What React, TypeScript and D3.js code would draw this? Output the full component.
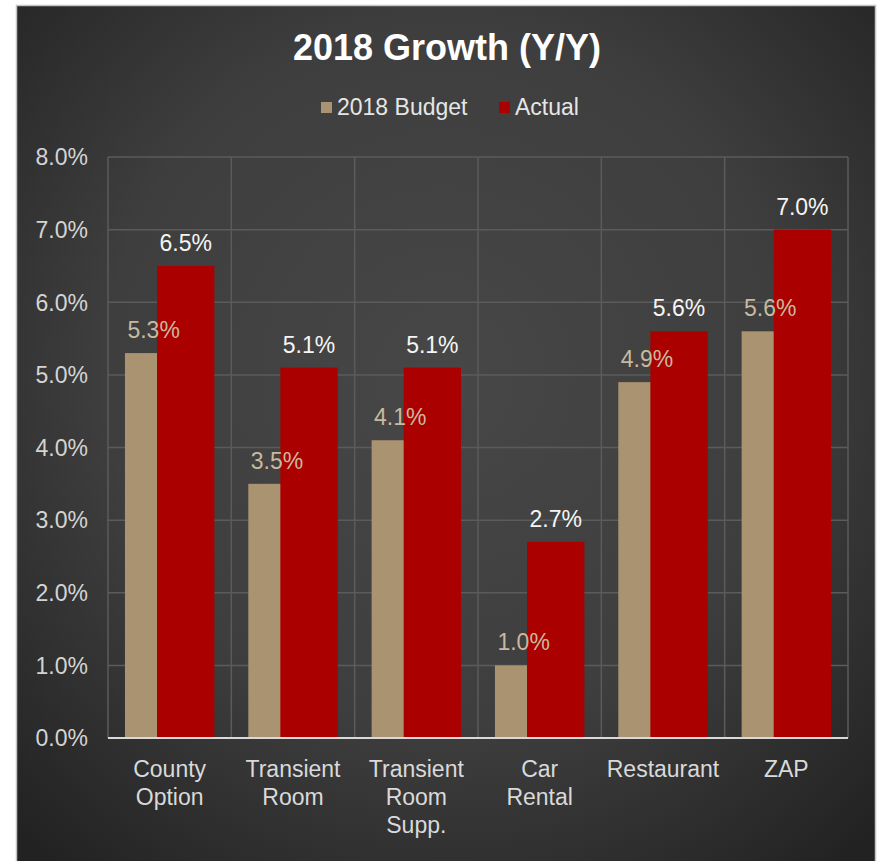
import * as d3 from "d3";

const categories = [
  ["County", "Option"],
  ["Transient", "Room"],
  ["Transient", "Room", "Supp."],
  ["Car", "Rental"],
  ["Restaurant"],
  ["ZAP"],
];
const budget = [0.053, 0.035, 0.041, 0.01, 0.049, 0.056];
const actual = [0.065, 0.051, 0.051, 0.027, 0.056, 0.07];
const yTicks = [0, 0.01, 0.02, 0.03, 0.04, 0.05, 0.06, 0.07, 0.08];
const seriesNames = ["2018 Budget", "Actual"];

const W = 883;
const H = 861;
const FONT = "'Liberation Sans', Arial, sans-serif";
const BUDGET = "#a99371";
const ACTUAL = "#ab0000";

export default function App() {
  const plot = { left: 108, right: 848, top: 157, bottom: 738 };
  const keys = categories.map((c) => c.join(" "));

  const x = d3
    .scaleBand<string>()
    .domain(keys)
    .range([plot.left, plot.right])
    .padding(0);
  const y = d3.scaleLinear().domain([0, 0.08]).range([plot.bottom, plot.top]);
  const fmt = d3.format(".1%");

  const band = x.bandwidth();
  const barW = band * 0.465;
  const offset = band * 0.26;

  const series = [
    { name: seriesNames[0], values: budget, color: BUDGET, label: "#c9b99d", shift: 0 },
    { name: seriesNames[1], values: actual, color: ACTUAL, label: "#f5f5f5", shift: offset },
  ];

  const groupStart = (k: string) => x(k)! + band / 2 - (barW + offset) / 2;

  return (
    <svg
      width={W}
      height={H}
      style={{ position: "absolute", left: 0, top: 0, background: "#fff" }}
      fontFamily={FONT}
    >
      <defs>
        <radialGradient id="bg" cx="50%" cy="42%" r="72%">
          <stop offset="0%" stopColor="#474747" />
          <stop offset="55%" stopColor="#3e3e3e" />
          <stop offset="100%" stopColor="#222222" />
        </radialGradient>
      </defs>
      <rect x={16.5} y={5.5} width={859} height={880} fill="url(#bg)" stroke="#c4c4c4" strokeWidth={1.5} />

      {/* title */}
      <text x={447} y={60} textAnchor="middle" fill="#ffffff" fontSize={36} fontWeight="bold">
        2018 Growth (Y/Y)
      </text>

      {/* legend */}
      <g fontSize={23} fill="#e6e6e6">
        <rect x={321} y={102} width={11} height={11} fill={BUDGET} />
        <text x={337} y={115}>{seriesNames[0]}</text>
        <rect x={499} y={102} width={11} height={11} fill={ACTUAL} />
        <text x={515} y={115}>{seriesNames[1]}</text>
      </g>

      {/* gridlines */}
      <g stroke="#5b5b5b" strokeWidth={1.5}>
        {yTicks.slice(1).map((t) => (
          <line key={t} x1={plot.left} x2={plot.right} y1={y(t)} y2={y(t)} />
        ))}
        {keys.map((k) => (
          <line key={k} x1={x(k)!} x2={x(k)!} y1={plot.top} y2={plot.bottom} />
        ))}
        <line x1={plot.right} x2={plot.right} y1={plot.top} y2={plot.bottom} />
      </g>

      {/* y tick labels */}
      <g fontSize={23} fill="#d4d4d4" textAnchor="end">
        {yTicks.map((t) => (
          <text key={t} x={88} y={y(t)} dy="0.36em">
            {fmt(t)}
          </text>
        ))}
      </g>

      {/* bars */}
      {series.map((s) => (
        <g key={s.name} fill={s.color}>
          {keys.map((k, i) => (
            <rect
              key={k}
              x={groupStart(k) + s.shift}
              y={y(s.values[i])}
              width={barW}
              height={plot.bottom - y(s.values[i])}
            />
          ))}
        </g>
      ))}

      {/* data labels */}
      {series.map((s) => (
        <g key={s.name} fontSize={23} fill={s.label} textAnchor="middle">
          {keys.map((k, i) => (
            <text key={k} x={groupStart(k) + s.shift + barW / 2} y={y(s.values[i]) - 15}>
              {fmt(s.values[i])}
            </text>
          ))}
        </g>
      ))}

      {/* axis line */}
      <line x1={plot.left} x2={plot.right} y1={plot.bottom} y2={plot.bottom} stroke="#d9d9d9" strokeWidth={2} />

      {/* category labels */}
      <g fontSize={23} fill="#d9d9d9" textAnchor="middle">
        {categories.map((lines, i) => (
          <text key={keys[i]} x={x(keys[i])! + band / 2} y={777}>
            {lines.map((l, j) => (
              <tspan key={j} x={x(keys[i])! + band / 2} dy={j === 0 ? 0 : 28}>
                {l}
              </tspan>
            ))}
          </text>
        ))}
      </g>
    </svg>
  );
}
